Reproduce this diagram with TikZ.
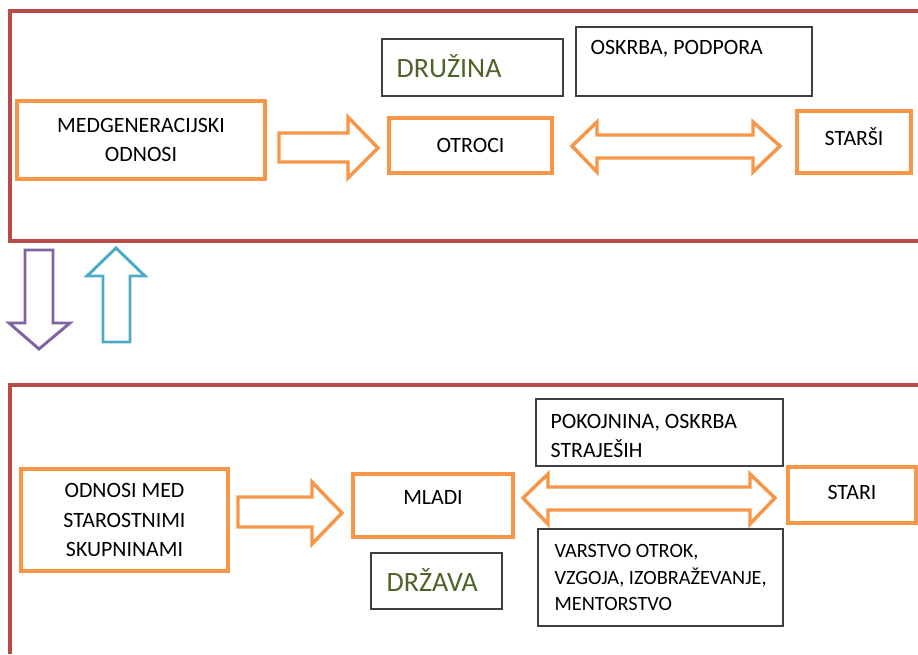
\documentclass[tikz,border=0pt]{standalone}
\usepackage{fontspec}
\setmainfont{Carlito}
\usetikzlibrary{calc}
\definecolor{relFrame}{HTML}{B94A48}
\definecolor{relOrange}{HTML}{F79646}
\definecolor{relPurple}{HTML}{8064A2}
\definecolor{relCyan}{HTML}{4BACC6}
\definecolor{relGreen}{HTML}{4F6228}
\definecolor{relGray}{HTML}{404040}
\tikzset{
  every picture/.style={font=\fontsize{16.4}{21.8}\selectfont},
  box size/.style 2 args={minimum width=#1*0.75pt, minimum height=#2*0.75pt},
  rel frame/.style={draw=relFrame, line width=2.4pt},
  rel box/.style={draw=relOrange, line width=3pt, inner sep=0pt, align=center},
  rel note/.style={draw=relGray, line width=0.9pt, inner sep=0pt},
  rel text/.style={inner sep=0pt, align=left},
  rel small/.style={rel text, font=\fontsize{15.2}{19.8}\selectfont},
  rel title/.style={inner sep=0pt, text=relGreen, font=\fontsize{21}{25}\selectfont},
  rel arrow/.style={draw=relOrange, line width=2.6pt, fill=white},
  rel down/.style={draw=relPurple, line width=2.2pt},
  rel up/.style={draw=relCyan, line width=2.2pt}
}

\begin{document}
\begin{tikzpicture}[x=0.75pt,y=-0.75pt]
  \useasboundingbox (0,0) rectangle (918,654);
  % frames
  \draw[rel frame] (918,11) -| (10,241) -- (918,241);
  \draw[rel frame] (918,385) -| (10,654);

  % family level
  \node[rel box, box size={248}{78}] (gen) at (141,140) {MEDGENERACIJSKI\\ODNOSI};
  \node[rel box, box size={163}{55}] (otroci) at (470.5,145.5) {OTROCI};
  \node[rel box, box size={114}{62}] (starsi) at (854,142) {};
  \node[rel text] (starsiText) at ($(starsi.center)+(0,-5)$) {STARŠI};
  \node[rel note, box size={181}{57}] (druzina) at (472.5,67.5) {};
  \node[rel title, anchor=west] (druzinaText) at ($(druzina.west)+(15,-1)$) {DRUŽINA};
  \node[rel note, box size={236}{69}] (oskrba) at (694,61.5) {};
  \node[rel text, anchor=west] (oskrbaText) at ($(oskrba.north west)+(15,22)$) {OSKRBA, PODPORA};

  \draw[rel arrow] (279,133) -- (348,133) -- (348,117) -- (378,148)
    -- (348,178) -- (348,162) -- (279,162) -- cycle;
  \draw[rel arrow] (572,146) -- (597,122) -- (597,135) -- (753,135) -- (753,122)
    -- (780,146) -- (753,172) -- (753,158) -- (597,158) -- (597,172) -- cycle;

  % between levels
  \draw[rel down] (25,250) -- (53,250) -- (53,323) -- (70,323) -- (39,349)
    -- (9,323) -- (25,323) -- cycle;
  \draw[rel up] (116,248) -- (145,276) -- (130,276) -- (130,342) -- (103,342)
    -- (103,276) -- (87,276) -- cycle;

  % society level
  \node[rel box, box size={207}{102}] (odnosi) at (124.5,520) {ODNOSI MED\\STAROSTNIMI\\SKUPNINAMI};
  \node[rel box, box size={160}{63}] (mladi) at (433,505.5) {};
  \node[rel text] (mladiText) at ($(mladi.center)+(0,-8.5)$) {MLADI};
  \node[rel note, box size={131}{56}] (drzava) at (436.5,581) {};
  \node[rel title, anchor=west] (drzavaText) at ($(drzava.west)+(16,-1)$) {DRŽAVA};
  \node[rel note, box size={247}{67}] (pokojnina) at (659.5,432.5) {};
  \node[rel text, anchor=west] (pokojninaText) at ($(pokojnina.west)+(15,3.5)$) {POKOJNINA, OSKRBA\\STRAJEŠIH};
  \node[rel box, box size={128}{56}] (stari) at (852,495) {};
  \node[rel text] (stariText) at ($(stari.center)+(0,-3)$) {STARI};
  \node[rel note, box size={245}{97}] (varstvo) at (660.5,577.5) {};
  \node[rel small, anchor=west] (varstvoText) at ($(varstvo.west)+(17,0)$) {VARSTVO OTROK,\\VZGOJA, IZOBRAŽEVANJE,\\MENTORSTVO};

  \draw[rel arrow] (238,497) -- (312,497) -- (312,482) -- (342,513)
    -- (312,544) -- (312,527) -- (238,527) -- cycle;
  \draw[rel arrow] (523,498) -- (548,474) -- (548,487) -- (750,487) -- (750,474)
    -- (775,498) -- (750,524) -- (750,510) -- (548,510) -- (548,524) -- cycle;
\end{tikzpicture}
\end{document}
